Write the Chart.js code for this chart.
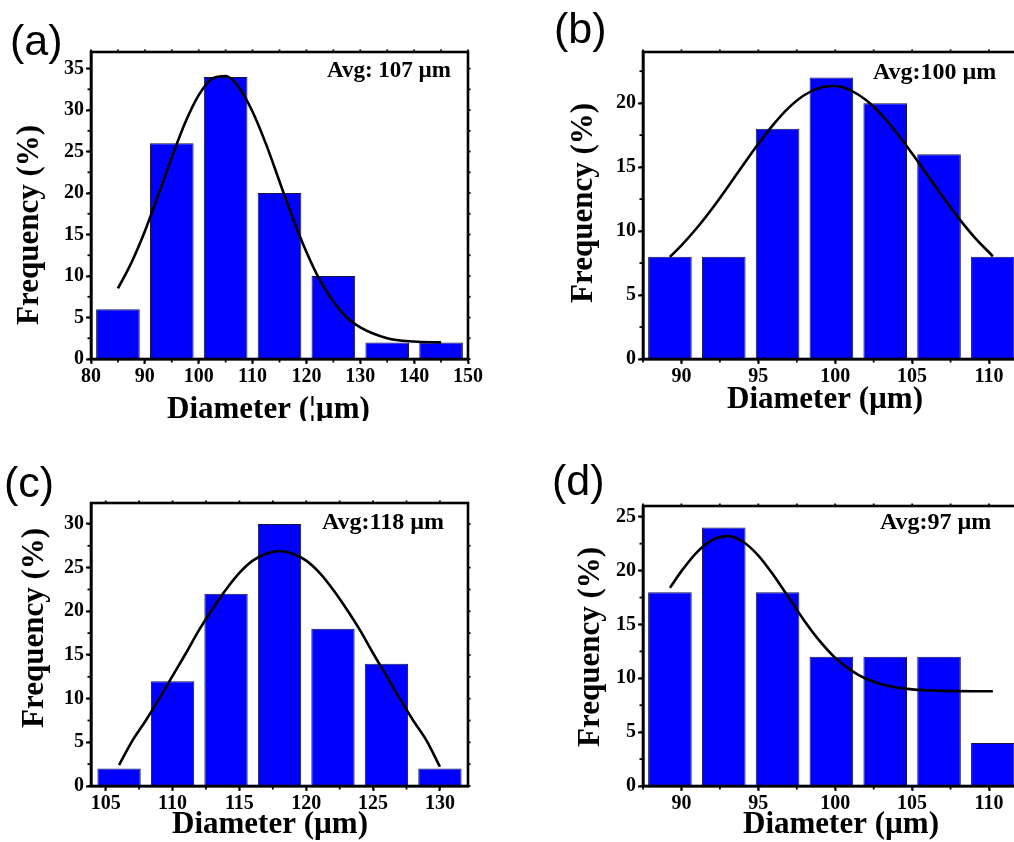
<!DOCTYPE html>
<html><head><meta charset="utf-8">
<script src="https://cdn.jsdelivr.net/npm/chart.js@4.4.1/dist/chart.umd.min.js"></script>
<style>
html,body{margin:0;padding:0;background:#fff;overflow:hidden;width:1014px;height:842px;}
#wrap{position:relative;width:1014px;height:842px;overflow:hidden;background:#fff;}
canvas{position:absolute;}
</style></head><body><div id="wrap">
<canvas id="ca" width="507" height="421" style="left:0px;top:0px"></canvas>
<canvas id="cb" width="533" height="421" style="left:507px;top:0px"></canvas>
<canvas id="cc" width="507" height="421" style="left:0px;top:421px"></canvas>
<canvas id="cd" width="533" height="421" style="left:507px;top:421px"></canvas>
</div>
<script>
// ---------- DATA ----------
// Panel (a)
const diamA = [85, 95, 105, 115, 125, 135, 145];
const freqA = [6, 26, 34, 20, 10, 2, 2];
const fitXA = [85, 87.5, 90, 92.5, 95, 97.5, 100, 102.5, 105, 107.5, 110, 112.5, 115, 117.5, 120, 122.5, 125, 127.5, 130, 135, 140, 145];
const fitYA = [8.5, 11.6, 15.4, 19.8, 24.3, 28.5, 31.8, 33.8, 34.1, 32.7, 29.8, 25.9, 21.4, 16.9, 12.9, 9.5, 6.9, 5.0, 3.8, 2.5, 2.1, 2.0];
const xTicksA = [80, 90, 100, 110, 120, 130, 140, 150];
const yTicksA = [0, 5, 10, 15, 20, 25, 30, 35];

// Panel (b)
const diamB = [89.25, 92.75, 96.25, 99.75, 103.25, 106.75, 110.25];
const freqB = [8, 8, 18, 22, 20, 16, 8];
const fitXB = [89.25, 90, 91, 92, 93, 94, 95, 96, 97, 98, 99, 100, 101, 102, 103, 104, 105, 106, 107, 108, 109, 110.25];
const fitYB = [7.98, 8.88, 10.24, 11.77, 13.43, 15.14, 16.82, 18.36, 19.67, 20.64, 21.21, 21.34, 21.0, 20.24, 19.1, 17.67, 16.06, 14.36, 12.66, 11.05, 9.59, 8.03];
const xTicksB = [90, 95, 100, 105, 110];
const yTicksB = [0, 5, 10, 15, 20];

// Panel (c)
const diamC = [106, 110, 114, 118, 122, 126, 130];
const freqC = [2, 12, 22, 30, 18, 14, 2];
const fitXC = [106, 107, 108, 109, 110, 111, 112, 113, 114, 115, 116, 117, 118, 119, 120, 121, 122, 123, 124, 125, 126, 127, 128, 129, 130];
const fitYC = [2.4, 5.2, 7.5, 10.0, 12.6, 15.2, 17.9, 20.3, 22.5, 24.4, 25.8, 26.6, 26.9, 26.6, 25.8, 24.4, 22.5, 20.3, 17.9, 15.2, 12.6, 10.0, 7.5, 5.2, 2.2];
const xTicksC = [105, 110, 115, 120, 125, 130];
const yTicksC = [0, 5, 10, 15, 20, 25, 30];

// Panel (d)
const diamD = [89.25, 92.75, 96.25, 99.75, 103.25, 106.75, 110.25];
const freqD = [18, 24, 18, 12, 12, 12, 4];
const fitXD = [89.25, 90, 91, 92, 93, 94, 95, 96, 97, 98, 99, 100, 101, 102, 103, 104, 105, 106, 107, 108, 109, 110.25];
const fitYD = [18.4, 19.95, 21.7, 22.85, 23.2, 22.68, 21.4, 19.55, 17.44, 15.33, 13.45, 11.9, 10.76, 9.96, 9.45, 9.14, 8.97, 8.88, 8.83, 8.81, 8.8, 8.8];
const xTicksD = [90, 95, 100, 105, 110];
const yTicksD = [0, 5, 10, 15, 20, 25];

// ---------- PLUGINS ----------
const framePlugin = {
  id: 'frame',
  afterDraw(chart, args, o) {
    const {ctx, chartArea: a, scales: {x, y}} = chart;
    ctx.save();
    ctx.strokeStyle = '#000';
    ctx.lineWidth = 1.8;
    for (let v = Math.ceil(x.min / o.xMinor - 1e-9) * o.xMinor; v <= x.max + 1e-9; v += o.xMinor) {
      const px = x.getPixelForValue(v);
      ctx.beginPath(); ctx.moveTo(px, a.bottom); ctx.lineTo(px, a.bottom + 3.5); ctx.stroke();
      ctx.beginPath(); ctx.moveTo(px, a.top); ctx.lineTo(px, a.top - 2.5); ctx.stroke();
    }
    for (let v = Math.ceil(y.min / o.yMinor - 1e-9) * o.yMinor; v <= y.max + 1e-9; v += o.yMinor) {
      const py = y.getPixelForValue(v);
      ctx.beginPath(); ctx.moveTo(a.left, py); ctx.lineTo(a.left - 3.5, py); ctx.stroke();
      ctx.beginPath(); ctx.moveTo(a.right, py); ctx.lineTo(a.right + 2.5, py); ctx.stroke();
    }
    ctx.lineWidth = 2.6;
    ctx.strokeRect(a.left, a.top, a.right - a.left, a.bottom - a.top);
    ctx.restore();
  }
};
const textPlugin = {
  id: 'texts',
  afterDraw(chart, args, o) {
    const ctx = chart.ctx;
    for (const it of o.items) {
      ctx.save();
      ctx.font = it.font;
      ctx.fillStyle = '#000';
      ctx.textAlign = 'left';
      ctx.textBaseline = 'alphabetic';
      ctx.translate(it.x, it.y);
      if (it.rot) ctx.rotate(it.rot);
      ctx.fillText(it.text, 0, 0);
      ctx.restore();
    }
  }
};

const SERIF = '"Liberation Serif", "Times New Roman", serif';
const SANS = '"Liberation Sans", Arial, sans-serif';
const tickFont = {family: SERIF, weight: 'bold', size: 20};

function makePanel(id, d) {
  const xMajor = d.xTicks[1] - d.xTicks[0];
  const yMajor = d.yTicks[1] - d.yTicks[0];
  const near = (arr, v) => arr.some(t => Math.abs(t - v) < 1e-6);
  const gridOpt = {display: true, drawOnChartArea: false, drawTicks: true, tickLength: 5, tickWidth: 2, tickColor: '#000', offset: false};
  const borderOpt = {display: true, color: '#000', width: 2.6};
  return new Chart(document.getElementById(id), {
    type: 'bar',
    data: {
      datasets: [
        {
          type: 'line',
          data: d.fitX.map((x, i) => ({x: x, y: d.fitY[i]})),
          borderColor: '#000', borderWidth: 2.6, pointRadius: 0, fill: false,
          tension: 0.4, cubicInterpolationMode: 'monotone'
        },
        {
          type: 'bar',
          data: d.diam.map((x, i) => ({x: x, y: d.freq[i]})),
          backgroundColor: '#0000ff', borderColor: '#14144a', borderWidth: 1,
          barPercentage: 0.81, categoryPercentage: 1.0
        }
      ]
    },
    options: {
      responsive: false, animation: false, devicePixelRatio: 1,
      layout: {padding: {left: 0, top: d.pt, right: d.pr, bottom: 0}},
      plugins: {
        legend: {display: false}, tooltip: {enabled: false},
        frame: {xMinor: d.xMinor, yMinor: d.yMinor},
        texts: {items: d.texts}
      },
      scales: {
        x: {
          type: 'linear', min: d.xMin, max: d.xMax, offset: false,
          ticks: {stepSize: xMajor, includeBounds: false, autoSkip: false, maxRotation: 0, padding: 1, color: '#000', font: tickFont,
                  callback: (v) => near(d.xTicks, v) ? String(Math.round(v)) : ''},
          grid: gridOpt, border: borderOpt,
          afterFit: (s) => { s.height = d.hx; }
        },
        y: {
          type: 'linear', min: 0, max: d.yMax,
          ticks: {stepSize: yMajor, includeBounds: false, autoSkip: false, padding: 2, color: '#000', font: tickFont,
                  callback: (v) => near(d.yTicks, v) ? String(Math.round(v)) : ''},
          grid: gridOpt, border: borderOpt,
          afterFit: (s) => { s.width = d.wy; }
        }
      }
    },
    plugins: [framePlugin, textPlugin]
  });
}

const titleFont = 'bold 31px ' + SERIF;
const avgFont = 'bold 23px ' + SERIF;
const labFont = '43px ' + SANS;
const ROT = -Math.PI / 2;

makePanel('ca', {
  diam: diamA, freq: freqA, fitX: fitXA, fitY: fitYA, xTicks: xTicksA, yTicks: yTicksA,
  xMin: 80, xMax: 150, yMax: 37, xMinor: 5, yMinor: 2.5,
  pt: 52, pr: 39, hx: 62, wy: 91,
  texts: [
    {text: '(a)', font: labFont, x: 10, y: 55},
    {text: 'Avg: 107 \u00b5m', font: avgFont, x: 327, y: 77},
    {text: 'Diameter (\u00a6\u00b5m)', font: titleFont, x: 167, y: 418},
    {text: 'Frequency (%)', font: titleFont, x: 38, y: 325, rot: ROT}
  ]
});
makePanel('cb', {
  diam: diamB, freq: freqB, fitX: fitXB, fitY: fitYB, xTicks: xTicksB, yTicks: yTicksB,
  xMin: 87.5, xMax: 112.6, yMax: 24, xMinor: 2.5, yMinor: 2.5,
  pt: 52, pr: 11, hx: 62, wy: 136,
  texts: [
    {text: '(b)', font: labFont, x: 47, y: 43},
    {text: 'Avg:100 \u00b5m', font: 'bold 24px ' + SERIF, x: 366, y: 79},
    {text: 'Diameter (\u00b5m)', font: titleFont, x: 220, y: 408},
    {text: 'Frequency (%)', font: titleFont, x: 85, y: 303, rot: ROT}
  ]
});
makePanel('cc', {
  diam: diamC, freq: freqC, fitX: fitXC, fitY: fitYC, xTicks: xTicksC, yTicks: yTicksC,
  xMin: 103.9, xMax: 132.1, yMax: 32.4, xMinor: 2.5, yMinor: 2.5,
  pt: 82, pr: 39, hx: 56, wy: 91,
  texts: [
    {text: '(c)', font: labFont, x: 4, y: 76},
    {text: 'Avg:118 \u00b5m', font: 'bold 24px ' + SERIF, x: 322, y: 108},
    {text: 'Diameter (\u00b5m)', font: titleFont, x: 172, y: 412},
    {text: 'Frequency (%)', font: titleFont, x: 43, y: 307, rot: ROT}
  ]
});
makePanel('cd', {
  diam: diamD, freq: freqD, fitX: fitXD, fitY: fitYD, xTicks: xTicksD, yTicks: yTicksD,
  xMin: 87.5, xMax: 112.6, yMax: 26, xMinor: 2.5, yMinor: 2.5,
  pt: 85, pr: 11, hx: 56, wy: 136,
  texts: [
    {text: '(d)', font: labFont, x: 45, y: 74},
    {text: 'Avg:97 \u00b5m', font: 'bold 24px ' + SERIF, x: 373, y: 108},
    {text: 'Diameter (\u00b5m)', font: titleFont, x: 236, y: 412},
    {text: 'Frequency (%)', font: titleFont, x: 92, y: 326, rot: ROT}
  ]
});
</script>
</body></html>
